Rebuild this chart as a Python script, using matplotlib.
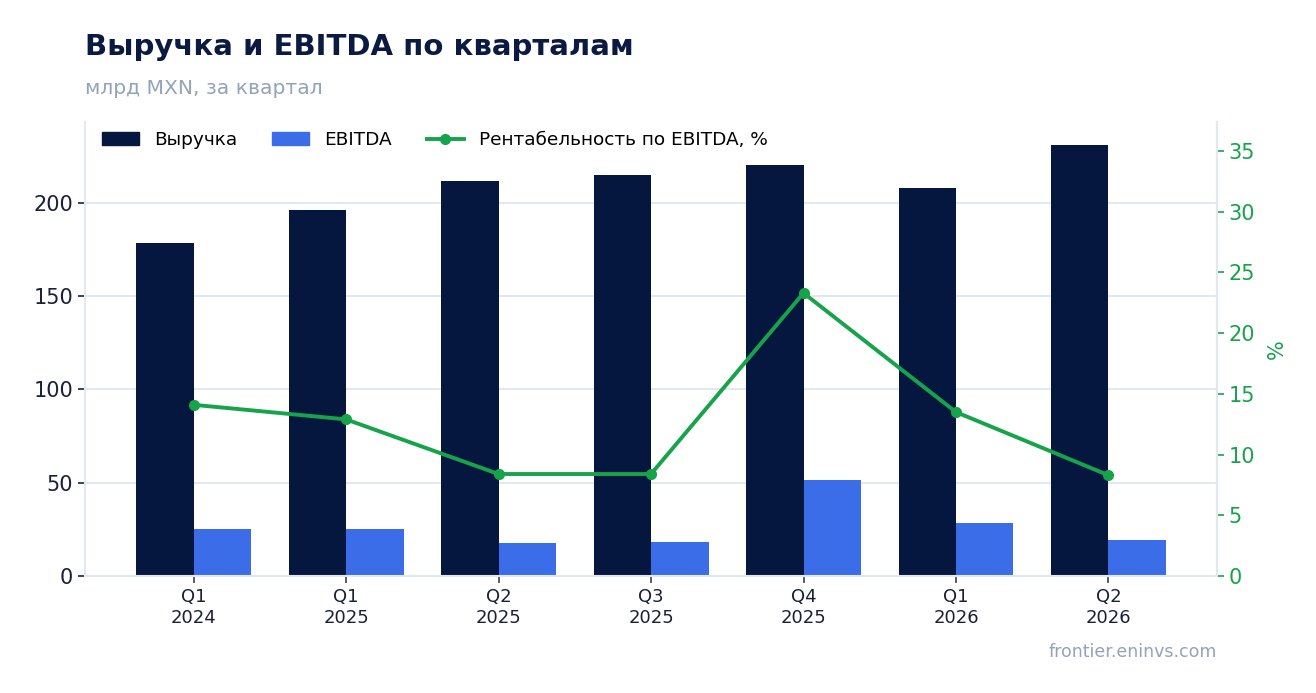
import numpy as np
import matplotlib.pyplot as plt
from matplotlib.lines import Line2D
from matplotlib.patches import Patch

# ─────────────────────────────────────────────
# Data
# ─────────────────────────────────────────────

quarters = ["Q1\n2024", "Q1\n2025", "Q2\n2025", "Q3\n2025", "Q4\n2025", "Q1\n2026", "Q2\n2026"]
revenue = [178.5, 196.2, 211.8, 215.0, 220.4, 208.0, 231.1]
ebitda = [25.2, 25.2, 17.7, 18.2, 51.5, 28.4, 19.3]
margin = [14.1, 12.9, 8.4, 8.4, 23.3, 13.5, 8.3]

NAVY = "#06173f"
BLUE = "#3b6de8"
GREEN = "#16a34a"
GRID = "#e2e8f0"
MUTED = "#94a3b8"
TEXT = "#1a2035"

plt.rcParams["font.family"] = ["DejaVu Sans"]

fig = plt.figure(figsize=(13.16, 6.93), dpi=100)
ax = fig.add_axes([0.0646, 0.1688, 0.8602, 0.6552])

x = np.arange(len(quarters))
w = 0.377

ax.bar(x - w / 2, revenue, width=w, color=NAVY, zorder=2)
ax.bar(x + w / 2, ebitda, width=w, color=BLUE, zorder=2)

ax.set_xlim(-0.712, len(quarters) - 1 + 0.712)
ax.set_ylim(0, 243.4)
ax.set_yticks([0, 50, 100, 150, 200])
ax.set_xticks(x)
ax.set_xticklabels(quarters, fontsize=13, color=TEXT)
ax.tick_params(axis="y", labelsize=15, colors=TEXT, length=5, width=1.2)
ax.tick_params(axis="x", length=5, width=1.2, color="#3a4150")
ax.grid(axis="y", color=GRID, linewidth=1.5, zorder=0)
ax.set_axisbelow(True)

ax.spines["top"].set_visible(False)
for side in ["left", "bottom", "right"]:
    ax.spines[side].set_color(GRID)
    ax.spines[side].set_linewidth(1.5)

ax2 = ax.twinx()
ax2.plot(x, margin, color=GREEN, linewidth=2.8, marker="o", markersize=7, zorder=3)
ax2.set_ylim(0, 37.39)
ax2.set_yticks([0, 5, 10, 15, 20, 25, 30, 35])
ax2.tick_params(axis="y", labelsize=15, colors=GREEN, length=5, width=1.2)
ax2.set_ylabel("%", color=GREEN, fontsize=15, labelpad=8)
for side in ["top", "left", "bottom"]:
    ax2.spines[side].set_visible(False)
ax2.spines["right"].set_color(GRID)
ax2.spines["right"].set_linewidth(1.5)

handles = [
    Patch(color=NAVY, label="Выручка"),
    Patch(color=BLUE, label="EBITDA"),
    Line2D([0], [0], color=GREEN, linewidth=2.8, marker="o", markersize=7,
           label="Рентабельность по EBITDA, %"),
]
ax.legend(handles=handles, loc="upper left", ncol=3, frameon=False, fontsize=13.3,
          bbox_to_anchor=(0.004, 1.008), handlelength=2.0, columnspacing=1.9,
          borderaxespad=0.3)

fig.text(0.0646, 0.921, "Выручка и EBITDA по кварталам", fontsize=21,
         fontweight="bold", color="#0a1a40", va="baseline")
fig.text(0.0646, 0.864, "млрд MXN, за квартал", fontsize=14.6,
         color=MUTED, va="baseline")
fig.text(0.9248, 0.052, "frontier.eninvs.com", fontsize=12.5,
         color=MUTED, ha="right", va="baseline")

fig.savefig("out.png", dpi=100)
